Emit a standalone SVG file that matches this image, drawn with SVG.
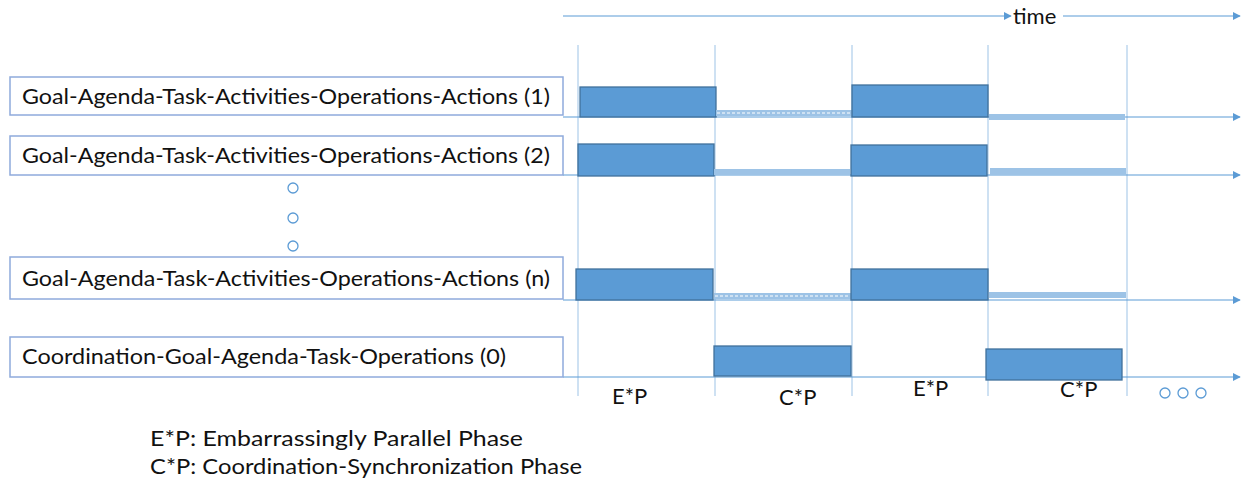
<svg xmlns="http://www.w3.org/2000/svg" width="1243" height="483" viewBox="0 0 1243 483">
<defs>
<marker id="ah" viewBox="0 0 10 10" refX="9" refY="5" markerWidth="8" markerHeight="8" markerUnits="userSpaceOnUse" orient="auto"><path d="M0,0 L10,5 L0,10 z" fill="#5B9BD5"/></marker>
</defs>
<style>
.lbl{fill:#fff;stroke:#8FAADC;stroke-width:1.5}
.t{font-family:Lato,"Open Sans","Liberation Sans",sans-serif;font-size:22px;fill:#111}
.bar{fill:#5B9BD5;stroke:#41719C;stroke-width:1.3}
.lt{fill:#9DC3E6}
.dash{stroke:#fff;stroke-width:1;stroke-dasharray:3 2;fill:none}
.ax{stroke:#5B9BD5;stroke-width:1;fill:none}
.vl{stroke:#9DC3E6;stroke-width:1;fill:none}
.dot{fill:#fff;stroke:#5B9BD5;stroke-width:1.3}
</style>
<g id="time-axis">
<line class="ax" x1="563" y1="16" x2="1011" y2="16" marker-end="url(#ah)"/>
<text class="t" x="1013" y="24">time</text>
<line class="ax" x1="1063" y1="16" x2="1240" y2="16" marker-end="url(#ah)"/>
</g>
<g id="phase-lines">
<line class="vl" x1="578" y1="45" x2="578" y2="396"/>
<line class="vl" x1="715" y1="45" x2="715" y2="396"/>
<line class="vl" x1="852" y1="45" x2="852" y2="396"/>
<line class="vl" x1="988" y1="45" x2="988" y2="396"/>
<line class="vl" x1="1127" y1="45" x2="1127" y2="396"/>
</g>
<g id="connectors">
<line class="ax" x1="563" y1="117" x2="1240" y2="117" marker-end="url(#ah)"/>
<line class="ax" x1="563" y1="175" x2="1240" y2="175" marker-end="url(#ah)"/>
<line class="ax" x1="563" y1="300" x2="1240" y2="300" marker-end="url(#ah)"/>
<line class="ax" x1="563" y1="377" x2="1240" y2="377" marker-end="url(#ah)"/>
</g>
<g id="row1">
<rect class="lbl" x="10" y="77" width="553" height="38"/>
<text class="t" x="22" y="104" textLength="528" lengthAdjust="spacingAndGlyphs">Goal-Agenda-Task-Activities-Operations-Actions (1)</text>
<rect class="bar" x="580" y="87" width="136" height="30"/>
<rect class="lt" x="716" y="110" width="136" height="6"/>
<line class="dash" x1="717" y1="113" x2="851" y2="113"/>
<rect class="bar" x="852" y="85" width="136" height="32"/>
<rect class="lt" x="989" y="114" width="136" height="6"/>
</g>
<g id="row2">
<rect class="lbl" x="10" y="136" width="553" height="39"/>
<text class="t" x="22" y="163" textLength="528" lengthAdjust="spacingAndGlyphs">Goal-Agenda-Task-Activities-Operations-Actions (2)</text>
<rect class="bar" x="578" y="144" width="136" height="32"/>
<rect class="lt" x="714" y="169" width="136" height="6"/>
<rect class="bar" x="851" y="145" width="136" height="31"/>
<rect class="lt" x="990" y="168" width="136" height="7"/>
</g>
<g id="ellipsis-vertical">
<circle class="dot" cx="293" cy="188" r="5"/>
<circle class="dot" cx="293" cy="218" r="5"/>
<circle class="dot" cx="293" cy="246" r="5"/>
</g>
<g id="rown">
<rect class="lbl" x="10" y="257" width="553" height="42"/>
<text class="t" x="22" y="286" textLength="528" lengthAdjust="spacingAndGlyphs">Goal-Agenda-Task-Activities-Operations-Actions (n)</text>
<rect class="bar" x="576" y="269" width="137" height="31"/>
<rect class="lt" x="714" y="293" width="137" height="6"/>
<line class="dash" x1="715" y1="296" x2="850" y2="296"/>
<rect class="bar" x="851" y="269" width="137" height="31"/>
<rect class="lt" x="989" y="292" width="137" height="6"/>
</g>
<g id="row0">
<rect class="lbl" x="10" y="337" width="553" height="40"/>
<text class="t" x="22" y="364" textLength="484" lengthAdjust="spacingAndGlyphs">Coordination-Goal-Agenda-Task-Operations (0)</text>
<rect class="bar" x="714" y="346" width="137" height="30"/>
<rect class="bar" x="986" y="349" width="136" height="31"/>
</g>
<g id="phase-labels">
<text class="t" x="612" y="404">E*P</text>
<text class="t" x="779" y="405">C*P</text>
<text class="t" x="913" y="396">E*P</text>
<text class="t" x="1060" y="397">C*P</text>
<circle class="dot" cx="1165" cy="393" r="5"/>
<circle class="dot" cx="1183" cy="393" r="5"/>
<circle class="dot" cx="1201" cy="393" r="5"/>
</g>
<g id="legend">
<text class="t" x="150" y="446" font-size="20" textLength="373" lengthAdjust="spacingAndGlyphs">E*P: Embarrassingly Parallel Phase</text>
<text class="t" x="150" y="474" font-size="20" textLength="432" lengthAdjust="spacingAndGlyphs">C*P: Coordination-Synchronization Phase</text>
</g>
</svg>
